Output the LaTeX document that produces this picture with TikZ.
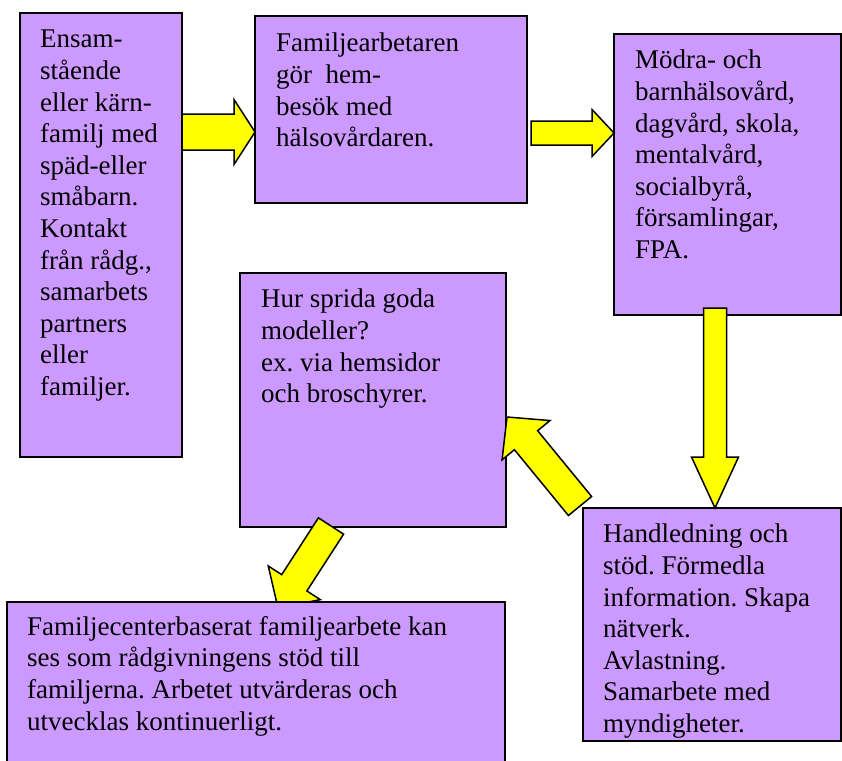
\documentclass[tikz,border=0pt]{standalone}
\usepackage{fontspec}
\setmainfont{Liberation Serif}
\usepackage{tikz}
\usetikzlibrary{positioning,calc}
\definecolor{boxfill}{RGB}{204,153,255}
\definecolor{arrowfill}{RGB}{255,255,0}
\frenchspacing

\tikzset{
  fat shaft/.store in=\fatshaft, fat head/.store in=\fathead, fat tip/.store in=\fattip,
  fat shaft=15pt, fat head=31pt, fat tip=30pt
}

\begin{document}
\begin{tikzpicture}[
  x=1pt, y=-1pt,
  box/.style={draw=black, line width=1.5pt, fill=boxfill, inner sep=0pt, outer sep=0pt},
  txt/.style={align=left, inner sep=0pt, font=\fontsize{27}{31.6}\selectfont},
  fat/.style={draw=black, line width=1.5pt, fill=arrowfill, line join=miter,
    to path={-- ($(\tikztostart)!\fatshaft!90:(\tikztotarget)$)
      -- ($(\tikztotarget)!\fattip!(\tikztostart)!\fatshaft!-90:(\tikztostart)$)
      -- ($(\tikztotarget)!\fattip!(\tikztostart)!\fathead!-90:(\tikztostart)$)
      -- (\tikztotarget)
      -- ($(\tikztotarget)!\fattip!(\tikztostart)!\fathead!90:(\tikztostart)$)
      -- ($(\tikztotarget)!\fattip!(\tikztostart)!\fatshaft!90:(\tikztostart)$)
      -- ($(\tikztostart)!\fatshaft!-90:(\tikztotarget)$)
      -- cycle}}
]
\useasboundingbox (0,0) rectangle (842,760);

% Top row.
\node[box, minimum width=162, minimum height=444] (single) at (101,235) {};
\node[txt, below right=17pt and 20pt of single.north west] (single-t)
  {Ensam-\\stående\\eller kärn-\\familj med\\späd-eller\\småbarn.\\Kontakt\\från rådg.,\\samarbets\\partners\\eller\\familjer.};

\node[box, minimum width=272, minimum height=187] (visit) at (391,109.5) {};
\node[txt, below right=17pt and 21pt of visit.north west] (visit-t)
  {Familjearbetaren\\gör\ \ hem-\\besök med\\hälsovårdaren.};

\node[box, minimum width=227, minimum height=281] (mch) at (727.5,174.5) {};
\node[txt, below right=16pt and 21pt of mch.north west] (mch-t)
  {Mödra- och\\barnhälsovård,\\dagvård, skola,\\mentalvård,\\socialbyrå,\\församlingar,\\FPA.};

% Middle and right.
\node[box, minimum width=266, minimum height=254] (spread) at (373,400) {};
\node[txt, below right=16pt and 21pt of spread.north west] (spread-t)
  {Hur sprida goda\\modeller?\\ex. via hemsidor\\och broschyrer.};

\node[box, minimum width=258, minimum height=233] (help) at (712,624.5) {};
\node[txt, below right=16pt and 20pt of help.north west] (help-t)
  {Handledning och\\stöd. Förmedla\\information. Skapa\\nätverk.\\Avlastning.\\Samarbete med\\myndigheter.};

% Block arrows.
\coordinate (a1tip) at ($(visit.west)+(0,22.5)$);
\coordinate (a2tip) at ($(mch.west)+(0,-41.5)$);
\coordinate (a2tail) at ($(visit.east |- a2tip)+(4,0)$);
\coordinate (a3tip) at ($(help.north)+(3,0)$);
\coordinate (a3tail) at ($(mch.south -| a3tip)+(0,-7)$);
\coordinate (a4tail) at ($(help.north west)+(-3,-2)$);
\coordinate (a4tip) at ($(spread.east)+(1,17)$);
\coordinate (a5tail) at ($(spread.south)+(-42,-1)$);
\coordinate (a5tip) at (278,608);

\draw[fat, fat shaft=18pt, fat head=32.5pt, fat tip=21pt] (single.east |- a1tip) to (a1tip);
\draw[fat, fat shaft=12pt, fat head=23.5pt, fat tip=22pt] (a2tail) to (a2tip);
\draw[fat, fat shaft=11.5pt, fat head=23.5pt, fat tip=51pt] (a3tail) to (a3tip);
\draw[fat] (a4tail) to (a4tip);
\draw[fat] (a5tail) to (a5tip);

% Bottom box.
\node[box, minimum width=498, minimum height=188] (summary) at (256,696) {};
\node[txt, below right=14pt and 20pt of summary.north west] (summary-t)
  {Familjecenterbaserat familjearbete kan\\ses som rådgivningens stöd till\\familjerna. Arbetet utvärderas och\\utvecklas kontinuerligt.};

\end{tikzpicture}
\end{document}
